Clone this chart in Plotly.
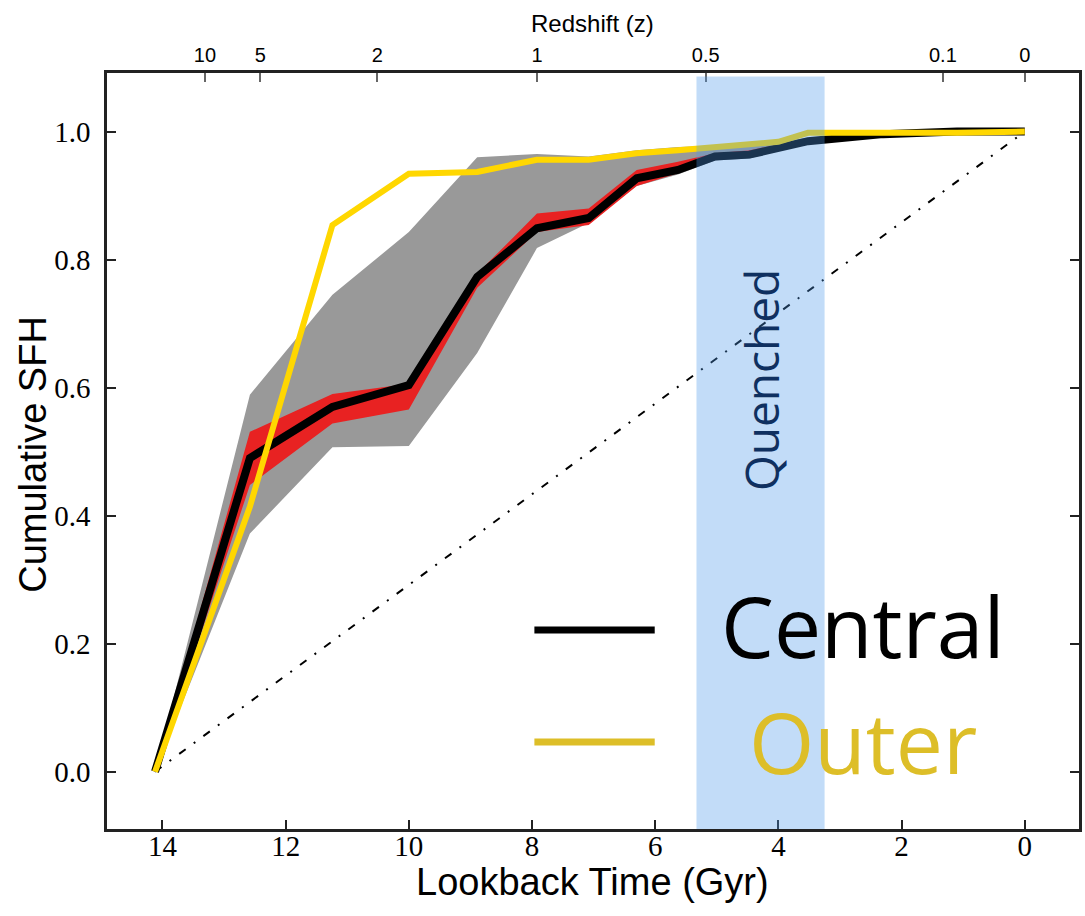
import plotly.graph_objects as go

# Lookback time grid (Gyr) shared by every curve
lookback = [14.12, 12.58, 11.24, 10.0, 8.89, 7.92, 7.08, 6.30, 5.63, 5.03, 4.47, 4.0, 3.52, 2.3, 1.1, 0.0]

# Cumulative star-formation histories
central = [0.0, 0.490, 0.570, 0.604, 0.773, 0.849, 0.865, 0.927, 0.940, 0.961, 0.964, 0.975, 0.985, 0.996, 1.0, 1.0]
outer = [0.0, 0.414, 0.854, 0.934, 0.937, 0.956, 0.956, 0.966, 0.971, 0.976, 0.982, 0.984, 0.998, 0.997, 0.998, 1.0]

# Uncertainty on the central profile
central_hi = [0.0, 0.531, 0.590, 0.606, 0.778, 0.872, 0.880, 0.940, 0.953, 0.966, 0.971, 0.980, 0.986, 0.996, 1.0, 1.0]
central_lo = [0.0, 0.448, 0.544, 0.566, 0.756, 0.843, 0.854, 0.915, 0.935, 0.957, 0.960, 0.972, 0.982, 0.995, 1.0, 1.0]

# Spread of the full sample
spread_hi = [0.0, 0.589, 0.745, 0.843, 0.960, 0.965, 0.961, 0.971, 0.976, 0.978, 0.982, 0.985, 0.990, 0.998, 1.0, 1.0]
spread_lo = [0.0, 0.372, 0.507, 0.509, 0.654, 0.818, 0.857, 0.915, 0.933, 0.955, 0.958, 0.970, 0.980, 0.994, 1.0, 1.0]

# Constant star-formation reference
constant_t = [14.12, 0.0]
constant_f = [0.0, 1.0]

# Quenching epoch (lookback Gyr)
quench_start, quench_end = 5.33, 3.25

# Bottom axis ticks
time_ticks = [14, 12, 10, 8, 6, 4, 2, 0]
# Redshift ticks on the top axis and their lookback times
z_labels = ["10", "5", "2", "1", "0.5", "0.1", "0"]
z_lookback = [13.31, 12.41, 10.51, 7.92, 5.18, 1.33, 0.0]

y_ticks = [0.0, 0.2, 0.4, 0.6, 0.8, 1.0]

X_RANGE = [14.9, -0.88]
Y_RANGE = [-0.0895, 1.0915]

SERIF = "Liberation Serif, Times New Roman, serif"
SANS = "Liberation Sans, Arial, Helvetica, sans-serif"
LABEL = "Open Sans, Noto Sans, sans-serif"

fig = go.Figure()

fig.add_trace(go.Scatter(
    x=lookback + lookback[::-1], y=spread_hi + spread_lo[::-1],
    fill="toself", fillcolor="#999999", line=dict(width=0),
    mode="lines", hoverinfo="skip", showlegend=False))

fig.add_trace(go.Scatter(
    x=lookback + lookback[::-1], y=central_hi + central_lo[::-1],
    fill="toself", fillcolor="#E82222", line=dict(width=0),
    mode="lines", hoverinfo="skip", showlegend=False))

fig.add_trace(go.Scatter(
    x=constant_t, y=constant_f, mode="lines",
    line=dict(color="black", width=2, dash="8px,10px,2px,10px"),
    showlegend=False))

fig.add_trace(go.Scatter(
    x=lookback, y=central, mode="lines", name="Central",
    line=dict(color="black", width=8), showlegend=False))

fig.add_trace(go.Scatter(
    x=lookback, y=outer, mode="lines", name="Outer",
    line=dict(color="#FFD700", width=6), showlegend=False))

# invisible trace so the redshift axis is drawn
fig.add_trace(go.Scatter(
    x=z_lookback, y=[0.5] * len(z_lookback), xaxis="x2", mode="markers",
    marker=dict(opacity=0), hoverinfo="skip", showlegend=False))

shapes = [
    dict(type="rect", xref="x", yref="y", x0=quench_start, x1=quench_end,
         y0=-0.09, y1=1.086, fillcolor="rgba(76,153,235,0.34)",
         line=dict(width=0), layer="above"),
    # legend keys
    dict(type="line", xref="paper", yref="paper", x0=0.4397, x1=0.5635,
         y0=0.2633, y1=0.2633, line=dict(color="black", width=7), layer="above"),
    dict(type="line", xref="paper", yref="paper", x0=0.4397, x1=0.5635,
         y0=0.1151, y1=0.1151, line=dict(color="#DDBE28", width=7), layer="above"),
]

annotations = [
    dict(text="Quenched", x=4.28, y=0.612, xref="x", yref="y", showarrow=False,
         textangle=-90, font=dict(family=LABEL, size=46, color="#0F3060")),
    dict(text="Central", x=0.778, y=0.2686, xref="paper", yref="paper",
         showarrow=False, xanchor="center", yanchor="middle",
         font=dict(family=LABEL, size=84, color="black")),
    dict(text="Outer", x=0.778, y=0.1151, xref="paper", yref="paper",
         showarrow=False, xanchor="center", yanchor="middle",
         font=dict(family=LABEL, size=84, color="#DDBE28")),
    dict(text="Cumulative SFH", x=-0.0762, y=0.4962, xref="paper", yref="paper",
         showarrow=False, textangle=-90, xanchor="center", yanchor="middle",
         font=dict(family=SANS, size=38, color="black")),
    dict(text="Lookback Time (Gyr)", x=0.499, y=-0.0700, xref="paper", yref="paper",
         showarrow=False, xanchor="center", yanchor="middle",
         font=dict(family=SANS, size=38, color="black")),
    dict(text="Redshift (z)", x=0.499, y=1.0652, xref="paper", yref="paper",
         showarrow=False, xanchor="center", yanchor="middle",
         font=dict(family=SANS, size=24, color="black")),
]

fig.update_layout(
    width=1085, height=916,
    margin=dict(l=107, r=3, t=73, b=87),
    paper_bgcolor="white", plot_bgcolor="white",
    shapes=shapes, annotations=annotations,
    xaxis=dict(
        range=X_RANGE, tickvals=time_ticks, ticktext=[str(v) for v in time_ticks],
        ticks="inside", ticklen=9, tickwidth=1.5, tickcolor="#222",
        showline=True, linecolor="#222", linewidth=2.5, mirror=True,
        showgrid=False, zeroline=False,
        tickfont=dict(family=SERIF, size=29, color="black"),
        ticklabelstandoff=-11,
    ),
    xaxis2=dict(
        range=X_RANGE, overlaying="x", side="top", anchor="y",
        tickvals=z_lookback, ticktext=z_labels,
        ticks="inside", ticklen=9, tickwidth=1.5, tickcolor="#666",
        showline=False, showgrid=False, zeroline=False,
        tickfont=dict(family=SANS, size=20, color="black"),
        ticklabelstandoff=6,
    ),
    yaxis=dict(
        range=Y_RANGE, tickvals=y_ticks, ticktext=[f"{v:.1f}" for v in y_ticks],
        ticks="inside", ticklen=9, tickwidth=1.5, tickcolor="#222",
        showline=True, linecolor="#222", linewidth=2.5, mirror="ticks",
        showgrid=False, zeroline=False,
        tickfont=dict(family=SERIF, size=29, color="black"),
        ticklabelstandoff=8,
    ),
)

fig.write_html("out.html")
